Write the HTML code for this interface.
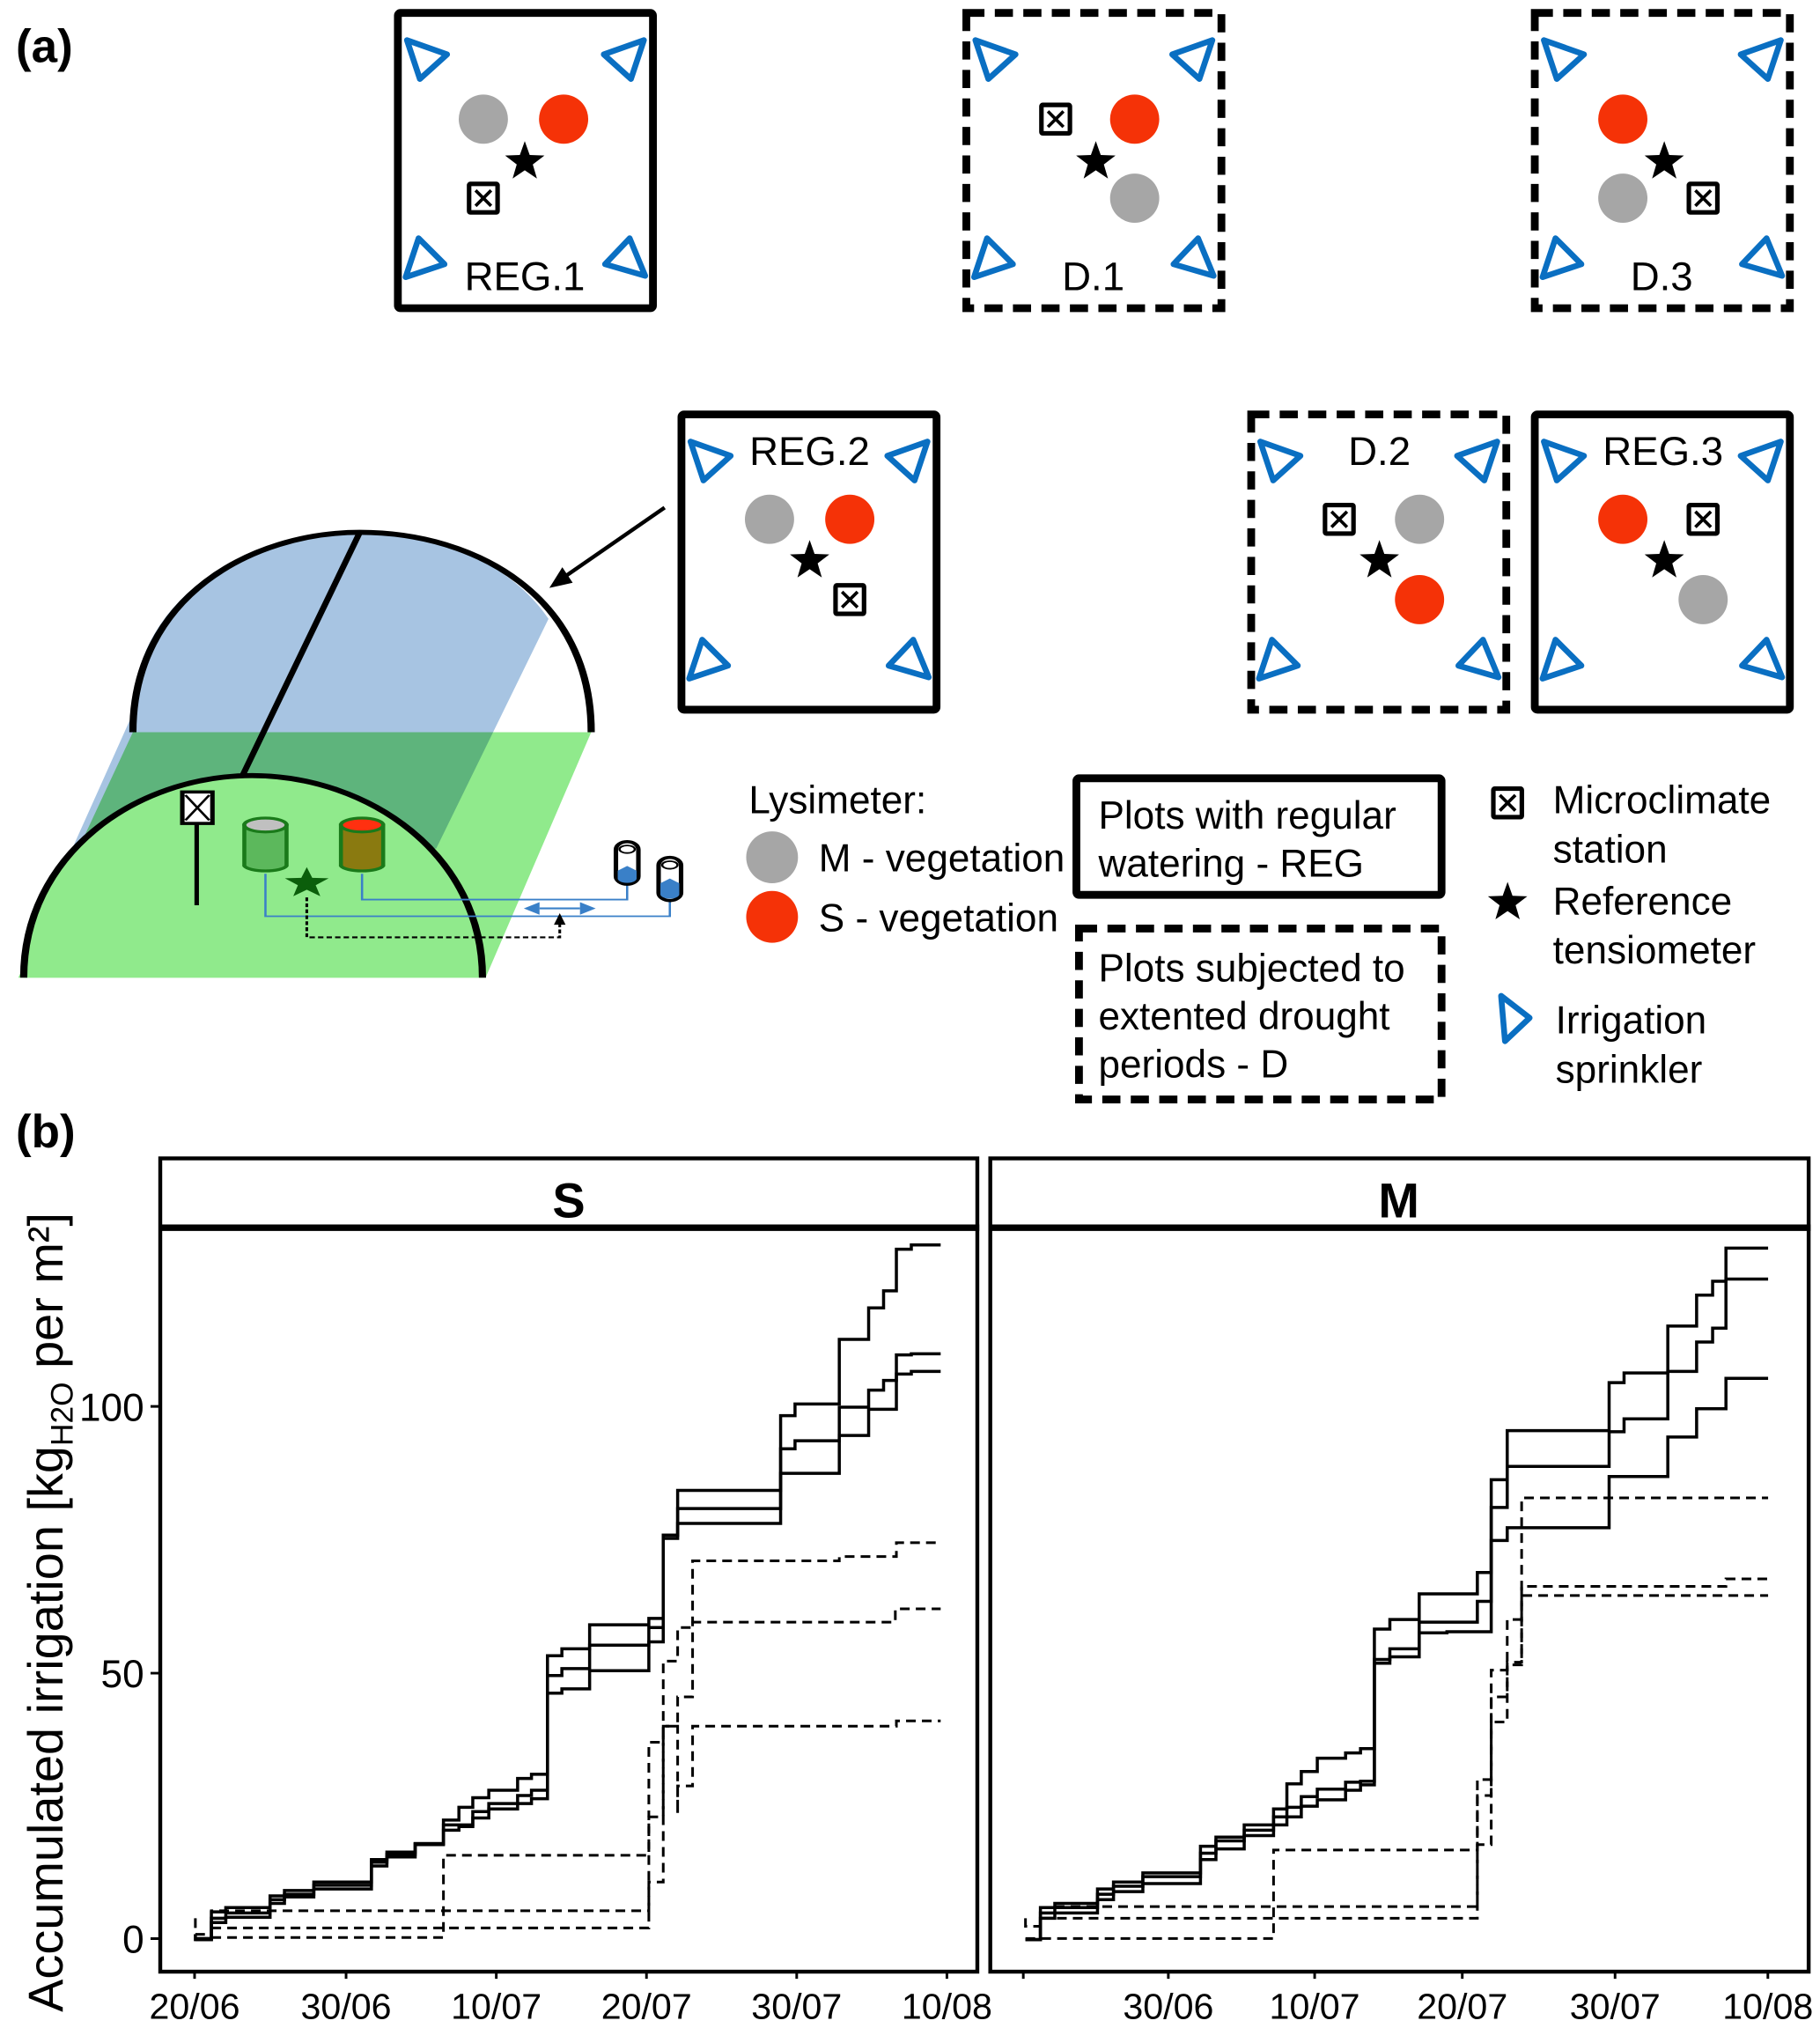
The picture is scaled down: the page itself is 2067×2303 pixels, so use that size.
<!DOCTYPE html>
<html><head><meta charset="utf-8"><style>
html,body{margin:0;padding:0;background:#fff}
svg{display:block}
text{font-family:"Liberation Sans",sans-serif}
</style></head><body>
<svg width="2067" height="2303" viewBox="0 0 1405 1566" xmlns="http://www.w3.org/2000/svg">
<defs>
<polygon id="star" points="0,-16 3.8,-5.3 15.2,-4.9 6.2,2 9.4,12.9 0,6.5 -9.4,12.9 -6.2,2 -15.2,-4.9 -3.8,-5.3" fill="#000"/>
<g id="mc"><rect x="-11" y="-11" width="22" height="22" fill="#fff" stroke="#000" stroke-width="3.5" rx="1"/><path d="M-6,-6 L6,6 M6,-6 L-6,6" stroke="#000" stroke-width="2.5"/></g>
<g id="tris" fill="none" stroke="#0a6fc2" stroke-width="4.5" stroke-linejoin="round">
<polygon points="7,21 38,32 17,51"/><polygon points="190,21 159,32 180,51"/>
<polygon points="16,174 36,194 6,204"/><polygon points="179,174 160,194 191,203"/>
</g>
<rect id="solidbox" x="0" y="0" width="197" height="228" fill="#fff" stroke="#000" stroke-width="6" rx="2"/>
<rect id="dashbox" x="0" y="0" width="197" height="228" fill="#fff" stroke="#000" stroke-width="6" stroke-dasharray="14,8"/>
</defs>

<text x="12" y="48" font-size="36" font-weight="bold">(a)</text>
<text x="12" y="886" font-size="36" font-weight="bold">(b)</text>

<!-- REG.1 -->
<g transform="translate(307,10)"><use href="#solidbox"/><use href="#tris"/>
<circle cx="66" cy="82" r="19" fill="#a6a6a6"/><circle cx="128" cy="82" r="19" fill="#f53207"/>
<use href="#star" x="98" y="115"/><use href="#mc" x="66" y="143"/>
<text x="98" y="214" font-size="31" text-anchor="middle">REG.1</text></g>
<!-- D.1 -->
<g transform="translate(746,10)"><use href="#dashbox"/><use href="#tris"/>
<use href="#mc" x="69" y="82"/><circle cx="130" cy="82" r="19" fill="#f53207"/>
<use href="#star" x="100" y="115"/><circle cx="130" cy="143" r="19" fill="#a6a6a6"/>
<text x="98" y="214" font-size="31" text-anchor="middle">D.1</text></g>
<!-- D.3 -->
<g transform="translate(1185,10)"><use href="#dashbox"/><use href="#tris"/>
<circle cx="68" cy="82" r="19" fill="#f53207"/><use href="#star" x="100" y="115"/>
<circle cx="68" cy="143" r="19" fill="#a6a6a6"/><use href="#mc" x="130" y="143"/>
<text x="98" y="214" font-size="31" text-anchor="middle">D.3</text></g>
<!-- REG.2 -->
<g transform="translate(526,320)"><use href="#solidbox"/><use href="#tris"/>
<circle cx="68" cy="81" r="19" fill="#a6a6a6"/><circle cx="130" cy="81" r="19" fill="#f53207"/>
<use href="#star" x="99" y="113"/><use href="#mc" x="130" y="143"/>
<text x="99" y="39" font-size="31" text-anchor="middle">REG.2</text></g>
<!-- D.2 -->
<g transform="translate(966,320)"><use href="#dashbox"/><use href="#tris"/>
<use href="#mc" x="68" y="81"/><circle cx="130" cy="81" r="19" fill="#a6a6a6"/>
<use href="#star" x="99" y="113"/><circle cx="130" cy="143" r="19" fill="#f53207"/>
<text x="99" y="39" font-size="31" text-anchor="middle">D.2</text></g>
<!-- REG.3 -->
<g transform="translate(1185,320)"><use href="#solidbox"/><use href="#tris"/>
<circle cx="68" cy="81" r="19" fill="#f53207"/><use href="#mc" x="130" y="81"/>
<use href="#star" x="100" y="113"/><circle cx="130" cy="143" r="19" fill="#a6a6a6"/>
<text x="99" y="39" font-size="31" text-anchor="middle">REG.3</text></g>

<!-- arrow -->
<line x1="513" y1="392" x2="432" y2="448" stroke="#000" stroke-width="3"/>
<polygon points="424,454 434,438 442,450" fill="#000"/>

<!-- greenhouse -->
<g transform="translate(0,380.7) scale(0.347,0.243)">
<path d="M160,1130 L295,700 C300,320 560,125 800,125 C1000,125 1150,250 1220,400 L970,1130 Z" fill="#a7c4e2"/>
<polygon points="295,760 1315,760 1080,1540 40,1540" fill="#90ea8c" style="mix-blend-mode:multiply"/>
<path d="M295,760 C295,330 560,125 800,125 C1060,125 1315,330 1315,760" fill="none" stroke="#000" stroke-width="16"/>
<line x1="800" y1="125" x2="540" y2="895" stroke="#000" stroke-width="14"/>
<path d="M52,1540 C52,1150 300,898 560,898 C820,898 1073,1150 1073,1540 Z" fill="#90ea8c"/>
<path d="M52,1540 C52,1150 300,898 560,898 C820,898 1073,1150 1073,1540" fill="none" stroke="#000" stroke-width="16"/>
<line x1="437" y1="1050" x2="437" y2="1310" stroke="#000" stroke-width="10"/>
<rect x="405" y="950" width="67" height="100" fill="#fff" stroke="#000" stroke-width="10"/>
<path d="M412,960 L465,1040 M465,960 L412,1040" stroke="#000" stroke-width="6"/>
<path d="M543,1055 V1185 A48,20 0 0 0 637,1185 V1055 Z" fill="#5cb85c" stroke="#1a7a1a" stroke-width="9"/>
<ellipse cx="590" cy="1055" rx="47" ry="22" fill="#c0c0c0" stroke="#1a7a1a" stroke-width="9"/>
<path d="M758,1055 V1185 A48,20 0 0 0 852,1185 V1055 Z" fill="#8a7a10" stroke="#1a7a1a" stroke-width="9"/>
<ellipse cx="805" cy="1055" rx="47" ry="22" fill="#ff3010" stroke="#1a7a1a" stroke-width="9"/>
<g transform="translate(682,1240) scale(3.2)"><polygon points="0,-16 3.8,-5.3 15.2,-4.9 6.2,2 9.4,12.9 0,6.5 -9.4,12.9 -6.2,2 -15.2,-4.9 -3.8,-5.3" fill="#0b5e0b"/></g>
<path d="M590,1210 V1345 H1490 V1295" fill="none" stroke="#3a80c8" stroke-width="5"/>
<path d="M805,1210 V1292 H1395 V1240" fill="none" stroke="#3a80c8" stroke-width="5"/>
<path d="M1200,1320 H1290" stroke="#3a80c8" stroke-width="6"/>
<polygon points="1165,1320 1200,1300 1200,1340" fill="#3a80c8"/>
<polygon points="1325,1320 1290,1300 1290,1340" fill="#3a80c8"/>
<path d="M682,1285 V1412 H1245 V1365" fill="none" stroke="#000" stroke-width="6" stroke-dasharray="12,7"/>
<polygon points="1245,1335 1232,1372 1258,1372" fill="#000"/>
<rect x="1370" y="1108" width="50" height="135" rx="25" fill="#fff" stroke="#000" stroke-width="10"/>
<path d="M1374,1200 L1395,1185 L1416,1200 V1225 A21,14 0 0 1 1374,1225 Z" fill="#3a80c8"/>
<ellipse cx="1395" cy="1132" rx="17" ry="12" fill="#fff" stroke="#000" stroke-width="5"/>
<rect x="1465" y="1158" width="50" height="137" rx="25" fill="#fff" stroke="#000" stroke-width="10"/>
<path d="M1469,1240 L1490,1225 L1511,1240 V1275 A21,14 0 0 1 1469,1275 Z" fill="#3a80c8"/>
<ellipse cx="1490" cy="1182" rx="17" ry="12" fill="#fff" stroke="#000" stroke-width="5"/>
</g>

<!-- legend -->
<g font-size="30">
<text x="578" y="628">Lysimeter:</text>
<circle cx="596" cy="662" r="20" fill="#a6a6a6"/><text x="632" y="673">M - vegetation</text>
<circle cx="596" cy="708" r="20" fill="#f53207"/><text x="632" y="719">S - vegetation</text>
<rect x="831" y="601" width="282" height="90" fill="none" stroke="#000" stroke-width="6" rx="2"/>
<text x="848" y="640">Plots with regular</text><text x="848" y="677">watering - REG</text>
<rect x="833" y="717" width="280" height="132" fill="none" stroke="#000" stroke-width="6" stroke-dasharray="14,8"/>
<text x="848" y="758">Plots subjected to</text><text x="848" y="795">extented drought</text><text x="848" y="832">periods - D</text>
<use href="#mc" x="1164" y="620"/><text x="1199" y="628">Microclimate</text><text x="1199" y="666">station</text>
<use href="#star" x="1164" y="697"/><text x="1199" y="706">Reference</text><text x="1199" y="744">tensiometer</text>
<polygon points="1159,769 1181,786 1162,804" fill="none" stroke="#0a6fc2" stroke-width="4.5" stroke-linejoin="round"/>
<text x="1201" y="798">Irrigation</text><text x="1201" y="836">sprinkler</text>
</g>

<!-- panel (b) -->
<g fill="none" stroke="#000">
<rect x="123.5" y="894.5" width="631" height="628" stroke-width="3"/>
<line x1="123" y1="948" x2="756" y2="948" stroke-width="5"/>
<rect x="764.5" y="894.5" width="632" height="628" stroke-width="3"/>
<line x1="764" y1="948" x2="1398" y2="948" stroke-width="5"/>
<path d="M116,1086 H123 M116,1292 H123 M116,1497 H123" stroke-width="2"/>
<path d="M150,1522 V1528 M267,1522 V1528 M383,1522 V1528 M499,1522 V1528 M615,1522 V1528 M731,1522 V1528" stroke-width="2"/>
<path d="M790,1522 V1528 M902,1522 V1528 M1015,1522 V1528 M1129,1522 V1528 M1247,1522 V1528 M1365,1522 V1528" stroke-width="2"/>
</g>
<text x="439" y="940" font-size="38" font-weight="bold" text-anchor="middle">S</text>
<text x="1080" y="940" font-size="38" font-weight="bold" text-anchor="middle">M</text>
<g font-size="30" text-anchor="end"><text x="111" y="1097">100</text><text x="111" y="1303">50</text><text x="111" y="1508">0</text></g>
<g font-size="28" text-anchor="middle">
<text x="150" y="1559">20/06</text><text x="267" y="1559">30/06</text><text x="383" y="1559">10/07</text><text x="499" y="1559">20/07</text><text x="615" y="1559">30/07</text><text x="731" y="1559">10/08</text>
<text x="902" y="1559">30/06</text><text x="1015" y="1559">10/07</text><text x="1129" y="1559">20/07</text><text x="1247" y="1559">30/07</text><text x="1365" y="1559">10/08</text>
</g>
<text transform="translate(48,1245) rotate(-90)" font-size="38" text-anchor="middle">Accumulated irrigation [kg<tspan font-size="24" dy="8">H2O</tspan><tspan dy="-8"> per m²]</tspan></text>

<!-- S lines -->
<g transform="translate(102,888) scale(0.412)" fill="none" stroke="#000">
<path vector-effect="non-scaling-stroke" stroke-width="3.5" d="M118,1478 H148 V1428 H175 V1420 H258 V1398 H285 V1388 H340 V1372 H448 V1330 H477 V1316 H530 V1300 H583 V1256 H612 V1232 H638 V1214 H668 V1200 H722 V1178 H748 V1170 H778 V948 H805 V935 H857 V890 H968 V878 H995 V722 H1022 V638 H1215 V498 H1242 V476 H1325 V355 H1380 V296 H1408 V264 H1432 V186 H1460 V178 H1515"/>
<path vector-effect="non-scaling-stroke" stroke-width="3.5" d="M118,1470 V1480 H148 V1440 H175 V1430 H258 V1405 H285 V1395 H340 V1378 H448 V1335 H477 V1320 H530 V1300 H583 V1265 H612 V1265 H638 V1240 H668 V1225 H722 V1210 H748 V1200 H778 V985 H805 V972 H857 V928 H968 V895 H995 V722 H1022 V672 H1215 V560 H1242 V545 H1325 V482 H1380 V450 H1408 V432 H1432 V384 H1460 V382 H1515"/>
<path vector-effect="non-scaling-stroke" stroke-width="3.5" d="M118,1480 H148 V1448 H175 V1438 H258 V1412 H285 V1400 H340 V1385 H448 V1342 H477 V1325 H530 V1302 H583 V1275 H612 V1268 H638 V1252 H668 V1235 H722 V1225 H748 V1216 H778 V1018 H805 V1010 H857 V976 H968 V922 H995 V728 H1022 V700 H1215 V606 H1325 V535 H1380 V486 H1432 V420 H1460 V415 H1515"/>
<path vector-effect="non-scaling-stroke" stroke-width="3" stroke-dasharray="11,7" d="M148,1476 H583 V1322 H968 V1110 H995 V1080 H1022 V1025 H1050 V770 H1325 V762 H1432 V736 H1515"/>
<path vector-effect="non-scaling-stroke" stroke-width="3" stroke-dasharray="11,7" d="M118,1440 V1470 H148 V1426 H968 V1250 H995 V958 H1022 V895 H1050 V885 H1430 V860 H1515"/>
<path vector-effect="non-scaling-stroke" stroke-width="3" stroke-dasharray="11,7" d="M148,1458 H968 V1372 H995 V1080 H1022 V1245 V1192 H1050 V1080 H1432 V1070 H1515"/>
</g>

<!-- M lines -->
<g transform="translate(754.6,888) scale(0.412)" fill="none" stroke="#000">
<path vector-effect="non-scaling-stroke" stroke-width="3.5" d="M90,1480 H118 V1420 H145 V1412 H225 V1385 H255 V1372 H310 V1355 H418 V1305 H447 V1288 H500 V1265 H555 V1235 H580 V1188 H607 V1165 H637 V1140 H690 V1130 H718 V1122 H744 V898 H773 V880 H828 V832 H937 V792 H963 V618 H993 V526 H1184 V436 H1212 V418 H1294 V330 H1348 V272 H1378 V246 H1403 V242 H1482"/>
<path vector-effect="non-scaling-stroke" stroke-width="3.5" d="M90,1480 H118 V1430 H145 V1420 H225 V1395 H255 V1380 H310 V1362 H418 V1318 H447 V1295 H500 V1275 H555 V1250 H580 V1232 H607 V1212 H637 V1198 H690 V1185 H718 V1183 H744 V955 H773 V935 H828 V885 H937 V846 H963 V670 H993 V593 H1184 V528 H1212 V504 H1294 V415 H1348 V360 H1378 V334 H1403 V184 H1482"/>
<path vector-effect="non-scaling-stroke" stroke-width="3.5" d="M90,1480 H118 V1440 H145 V1430 H225 V1405 H255 V1390 H310 V1375 H418 V1330 H447 V1310 H500 V1285 H555 V1265 H580 V1250 H607 V1230 H637 V1218 H690 V1200 H718 V1190 H744 V962 H773 V950 H828 V905 H880 V903 H963 V732 H993 V708 H1184 V612 H1294 V538 H1348 V485 H1403 V428 H1482"/>
<path vector-effect="non-scaling-stroke" stroke-width="3" stroke-dasharray="11,7" d="M90,1440 V1455 H118 V1440 H937 V1302 H963 V1072 H993 V960 H1020 V652 H1482"/>
<path vector-effect="non-scaling-stroke" stroke-width="3" stroke-dasharray="11,7" d="M145,1418 H937 V1180 H963 V975 H993 V880 H1020 V818 H1403 V804 H1482"/>
<path vector-effect="non-scaling-stroke" stroke-width="3" stroke-dasharray="11,7" d="M90,1478 H555 V1312 H937 V1210 H963 V1025 H993 V965 H1020 V835 H1482"/>
</g>
</svg>
</body></html>
